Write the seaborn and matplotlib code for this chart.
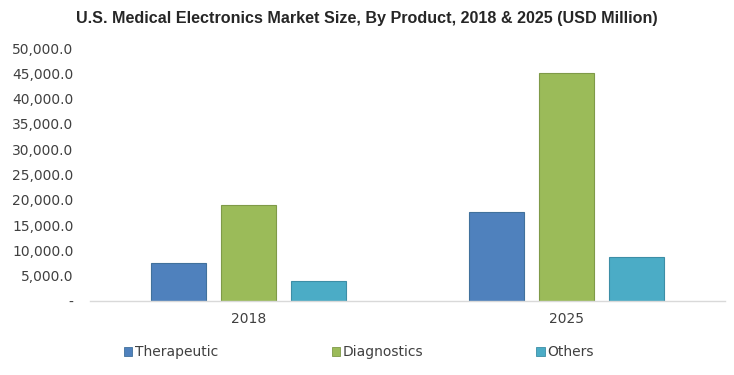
import matplotlib
matplotlib.use("Agg")
import matplotlib.pyplot as plt
from matplotlib.ticker import FuncFormatter, MultipleLocator
from matplotlib.patches import Patch
import seaborn as sns
import pandas as pd

years = ["2018", "2025"]
products = ["Therapeutic", "Diagnostics", "Others"]
therapeutic = [7500, 17600]
diagnostics = [19000, 45000]
others = [3900, 8700]
colors = ["#4F81BD", "#9BBB59", "#4BACC6"]
edges = ["#41719C", "#7F9A48", "#3D8EA6"]

rows = []
for prod, vals in zip(products, [therapeutic, diagnostics, others]):
    for y, v in zip(years, vals):
        rows.append({"Year": y, "Product": prod, "Value": v})
df = pd.DataFrame(rows)

sns.set_style("white")
plt.rcParams["font.family"] = ["DejaVu Sans"]

fig = plt.figure(figsize=(7.34, 3.75), dpi=100)
ax = fig.add_axes([90/734, 1-301/375, 635/734, 253/375])

sns.barplot(data=df, x="Year", y="Value", hue="Product", order=years,
            hue_order=products, palette=colors, width=0.66, gap=0.21,
            ax=ax, legend=False, saturation=1)
for i, cont in enumerate(ax.containers):
    for p in cont.patches:
        p.set_edgecolor(edges[i])
        p.set_linewidth(0.8)

ax.set_ylim(0, 50000)
ax.set_xlim(-0.5, 1.5)
ax.yaxis.set_major_locator(MultipleLocator(5000))
ax.yaxis.set_major_formatter(FuncFormatter(lambda v, p: "-" if v == 0 else f"{v:,.1f}"))
ax.set_xlabel("")
ax.set_ylabel("")
for s in ["top", "right", "left"]:
    ax.spines[s].set_visible(False)
ax.spines["bottom"].set_color("#D9D9D9")
ax.spines["bottom"].set_linewidth(1)
ax.tick_params(axis="both", length=0, labelsize=10, colors="#404040")
ax.tick_params(axis="y", pad=12)
ax.tick_params(axis="x", pad=8)

fig.text(0.5, 1-18/375, "U.S. Medical Electronics Market Size, By Product, 2018 & 2025 (USD Million)",
         ha="center", va="center", fontsize=11.6, fontweight="bold", color="#262626",
         family=["Liberation Sans"])

handles = [Patch(facecolor=c, edgecolor=e, linewidth=0.6) for c, e in zip(colors, edges)]
leg = fig.legend(handles, products, loc="center left", bbox_to_anchor=(124/734, 1-352/375),
                 ncol=3, frameon=False, fontsize=10, handlelength=0.6, handleheight=0.6,
                 handletextpad=0.2, columnspacing=8.15, borderaxespad=0, borderpad=0)
for t in leg.get_texts():
    t.set_color("#404040")

fig.savefig("out.png", dpi=100)
